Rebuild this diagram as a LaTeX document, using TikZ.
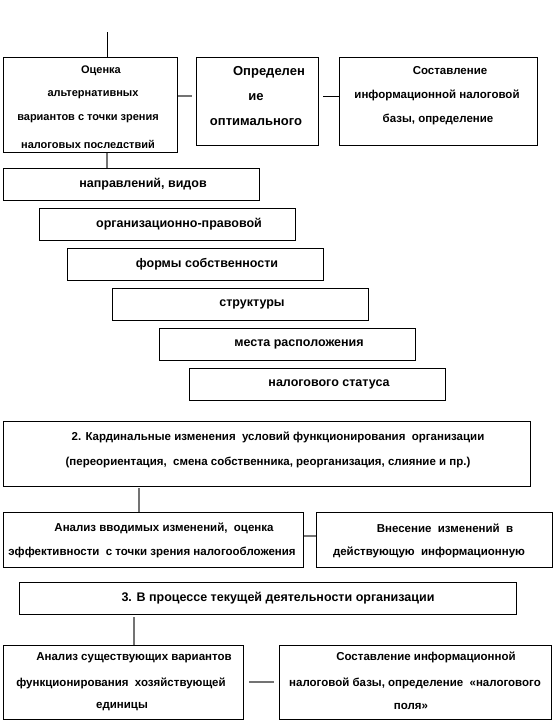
\documentclass[tikz,border=0pt]{standalone}
\usepackage{fontspec}
\setmainfont{Liberation Sans}
\begin{document}
\begin{tikzpicture}[x=1pt,y=-1pt,
  box/.style={draw=black, line width=1pt, inner sep=0pt, anchor=north west},
  lbl/.style={font=\bfseries\fontsize{11.5}{12}\selectfont, inner sep=0pt, anchor=center},
  lblA/.style={lbl, font=\bfseries\fontsize{11}{12}\selectfont},
  lblB/.style={lbl, font=\bfseries\fontsize{13}{14}\selectfont},
  lblL/.style={lbl, font=\bfseries\fontsize{12.5}{14}\selectfont},
  conn/.style={draw=black, line width=1pt},
  gconn/.style={draw=black!55, line width=1.3pt}]
\useasboundingbox (0,0) rectangle (555,728);
% top row
\node[box, minimum width=174pt, minimum height=95pt] (A) at (3,57) {};
\node[box, minimum width=122pt, minimum height=88pt] (B) at (196,57) {};
\node[box, minimum width=198pt, minimum height=88pt] (C) at (339,57) {};
\node[lblA] (a1) at (101,71) {Оценка};
\node[lblA] (a2) at (93,95) {альтернативных};
\node[lblA] (a3) at (88,119) {вариантов с точки зрения};
\begin{scope}
\clip (3,57) rectangle (177,147);
\node[lblA] (a4) at (88,146) {налоговых последствий};
\end{scope}
\node[lblB] (b1) at (269,72) {Определен};
\node[lblB] (b2) at (256,97) {ие};
\node[lblB] (b3) at (256,122) {оптимального};
\node[lbl] (c1) at (450,71) {Составление};
\node[lbl] (c2) at (437,95) {информационной налоговой};
\node[lbl] (c3) at (438,119) {базы, определение};
% staircase
\node[box, minimum width=256pt, minimum height=32pt] (N1) at (3,168) {};
\node[box, minimum width=256pt, minimum height=32pt] (N2) at (39,208) {};
\node[box, minimum width=256pt, minimum height=32pt] (N3) at (67,248) {};
\node[box, minimum width=256pt, minimum height=32pt] (N4) at (112,288) {};
\node[box, minimum width=256pt, minimum height=32pt] (N5) at (159,328) {};
\node[box, minimum width=256pt, minimum height=32pt] (N6) at (189,368) {};
\node[lblL] (n1) at (143,184) {направлений, видов};
\node[lblL] (n2) at (179,224) {организационно-правовой};
\node[lblL] (n3) at (207,264) {формы собственности};
\node[lblL] (n4) at (252,304) {структуры};
\node[lblL] (n5) at (299,344) {места расположения};
\node[lblL] (n6) at (329,384) {налогового статуса};
% section 2
\node[box, minimum width=527pt, minimum height=65pt] (S2) at (3,421) {};
\node[lbl] (s21) at (278,437) {2. Кардинальные изменения\ \ условий функционирования\ \ организации};
\node[lbl] (s22) at (268,462) {(переориентация,\ \ смена собственника, реорганизация, слияние и пр.)};
\node[box, minimum width=300pt, minimum height=55pt] (L2) at (3,512) {};
\node[box, minimum width=236pt, minimum height=55pt] (R2) at (316,512) {};
\node[lbl] (l21) at (164,528) {Анализ вводимых изменений,\ \ оценка};
\node[lbl] (l22) at (152,552) {эффективности\ \ с точки зрения налогообложения};
\node[lbl] (r21) at (445,528) {Внесение\ \ изменений\ \ в};
\node[lbl] (r22) at (429,552) {действующую\ \ информационную};
% section 3
\node[box, minimum width=497pt, minimum height=32pt] (S3) at (19,582) {};
\node[lblL] (s31) at (278,598) {3. В процессе текущей деятельности организации};
\node[box, minimum width=240pt, minimum height=74pt] (L3) at (3,645) {};
\node[box, minimum width=272pt, minimum height=74pt] (R3) at (279,645) {};
\node[lbl] (l31) at (134,658) {Анализ существующих вариантов};
\node[lbl] (l32) at (121,683) {функционирования\ \ хозяйствующей};
\node[lbl] (l33) at (122,707) {единицы};
\node[lbl] (r31) at (426,657) {Составление информационной};
\node[lbl] (r32) at (415,683) {налоговой базы, определение\ \ «налогового};
\node[lbl] (r33) at (411,706) {поля»};
% connectors
\coordinate (top) at (107,32);
\coordinate (ab) at (192,96);
\coordinate (bc) at (323,96);
\coordinate (k2) at (139,488);
\coordinate (m2) at (303,536);
\coordinate (k3) at (134,617);
\coordinate (m3a) at (249,682);
\coordinate (m3b) at (274,682);
\draw[conn] (top) -- (top |- A.north);
\draw[gconn] (top |- A.south) -- (top |- N1.north);
\draw[gconn] (A.east |- ab) -- (ab);
\draw[conn] (bc) -- (bc -| C.west);
\draw[gconn] (k2) -- (k2 |- L2.north);
\draw[gconn] (L2.east |- m2) -- (m2 -| R2.west);
\draw[gconn] (k3) -- (k3 |- L3.north);
\draw[gconn] (m3a) -- (m3b);
\end{tikzpicture}
\end{document}
